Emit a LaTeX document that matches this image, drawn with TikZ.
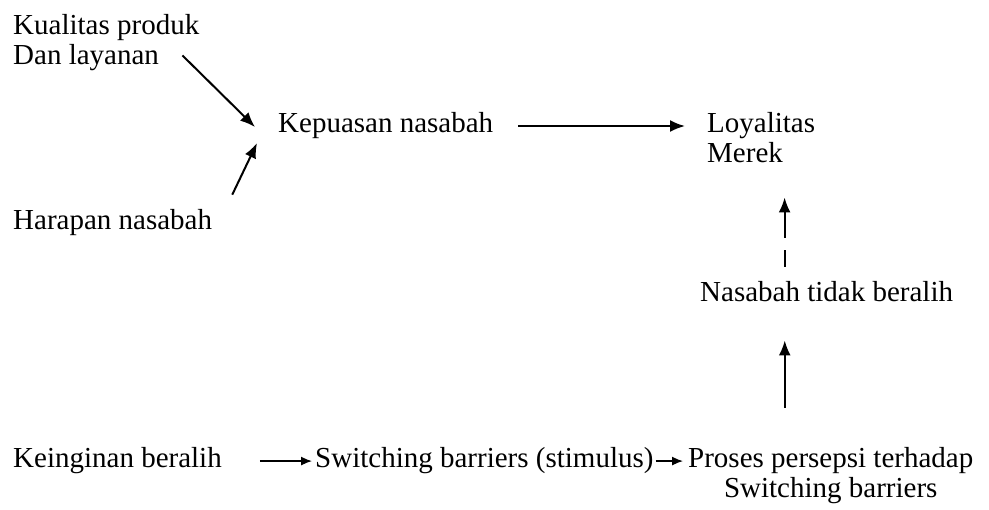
\documentclass[tikz,border=0pt]{standalone}
\usepackage{fontspec}
\setmainfont{Liberation Serif}
\usetikzlibrary{arrows.meta}
\tikzset{>=stealth}
\tikzset{%
    txt/.style={inner sep=0pt, font=\fontsize{29}{30}\selectfont},
    arrow/.style={-{Latex[length=15pt,width=12pt]}, line width=2pt},
    small arrow/.style={-{Latex[length=11pt,width=9pt]}, line width=1.3pt}
}

\begin{document}
\begin{tikzpicture}[x=1pt,y=-1pt]
\useasboundingbox (0,0) rectangle (989,510);
% top part (two-line nodes sit on the baseline of their last line)
\node[txt,anchor=base west,align=left] (kualitas) at (13,65)  {Kualitas produk\\Dan layanan};
\node[txt,anchor=base west]            (harapan)  at (13,230) {Harapan nasabah};
\node[txt,anchor=base west]            (kepuasan) at (278,133) {Kepuasan nasabah};
\node[txt,anchor=base west,align=left] (loyalitas) at (707,163) {Loyalitas\\Merek};
\node[txt,anchor=base west]            (tidak)    at (700,302) {Nasabah tidak beralih};
% bottom row
\node[txt,anchor=base west]            (keinginan) at (13,468) {Keinginan beralih};
\node[txt,anchor=base west]            (switching) at (315,468) {Switching barriers (stimulus)};
\node[txt,anchor=base west,align=center] (proses) at (688,498) {Proses persepsi terhadap\\Switching barriers};
\draw[arrow] ([xshift=-17pt,yshift=16pt]kualitas.south east) -- ([xshift=-23pt,yshift=-1pt]kepuasan.west);
\draw[arrow] ([xshift=20pt,yshift=15pt]harapan.north east) -- ([xshift=-21pt,yshift=-17pt]kepuasan.west);
\draw[arrow,shorten <=25pt,shorten >=22pt] (kepuasan.east) -- (kepuasan.east -| loyalitas.west);
\draw[arrow,dash pattern=on 17pt off 12pt on 200pt,shorten <=15pt,shorten >=34pt]
    ([xshift=-42pt]tidak.north) -- ([xshift=-42pt]tidak.north |- loyalitas.south);
\draw[arrow,shorten <=40pt,shorten >=38pt]
    ([xshift=-46pt]proses.north) -- ([xshift=-46pt]proses.north |- tidak.south);
\draw[small arrow,shorten <=38pt,shorten >=3pt] (keinginan.east) -- (switching.west);
\draw[small arrow,shorten <=2pt,shorten >=5pt] (switching.east) -- (switching.east -| proses.west);
\end{tikzpicture}
\end{document}
